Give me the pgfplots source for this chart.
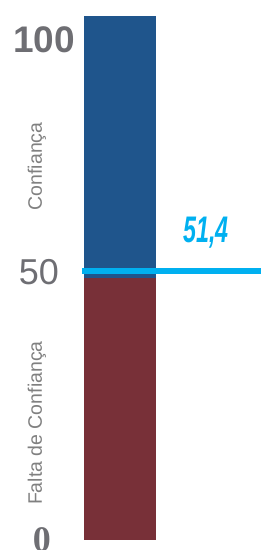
\documentclass[border=0pt]{standalone}
\usepackage{fontspec}
\setmainfont{Liberation Sans}
\newfontfamily\seriffont{Liberation Serif}
\usepackage{pgfplots}
\pgfplotsset{compat=1.18}
\definecolor{barblue}{RGB}{31,85,140}
\definecolor{barred}{RGB}{120,48,56}
\definecolor{lcyan}{RGB}{0,176,240}
\definecolor{numgrey}{RGB}{110,110,115}
\definecolor{labgrey}{RGB}{128,128,128}
\begin{document}
\begin{tikzpicture}
\begin{axis}[
  scale only axis, width=179pt, height=524pt,
  xmin=0, xmax=179, ymin=0, ymax=100,
  axis lines=none, clip=false,
]
\addplot[ybar, bar width=72pt, bar shift=0pt, fill=barblue, draw=none] coordinates {(38,100)};
\addplot[ybar, bar width=72pt, bar shift=0pt, fill=barred, draw=none] coordinates {(38,50)};
\addplot[lcyan, line width=6pt, sharp plot] coordinates {(0,51.4) (179,51.4)};
\node[anchor=base, text=numgrey, font=\fontsize{37}{40}\selectfont\bfseries] at (axis cs:-38,93.1) {100};
\node[anchor=base, text=numgrey, font=\fontsize{36}{40}\selectfont] at (axis cs:-43,48.7) {50};
\node[anchor=base, text=numgrey, font=\seriffont\fontsize{36}{40}\selectfont\bfseries] at (axis cs:-40,-2.2) {0};
\node[rotate=90, text=labgrey, font=\fontsize{19.5}{22}\selectfont] at (axis cs:-45,71.3) {Confiança};
\node[rotate=90, text=labgrey, font=\fontsize{19.5}{22}\selectfont] at (axis cs:-45,22.3) {Falta de Confiança};
\node[anchor=base, text=lcyan, font=\fontsize{37}{40}\selectfont\bfseries\itshape] at (axis cs:124,56.7) {\scalebox{0.63}[1]{51,4}};
\end{axis}
\pgfresetboundingbox
\path[use as bounding box] (-82pt,-10pt) rectangle (179pt,540pt);
\end{tikzpicture}
\end{document}
